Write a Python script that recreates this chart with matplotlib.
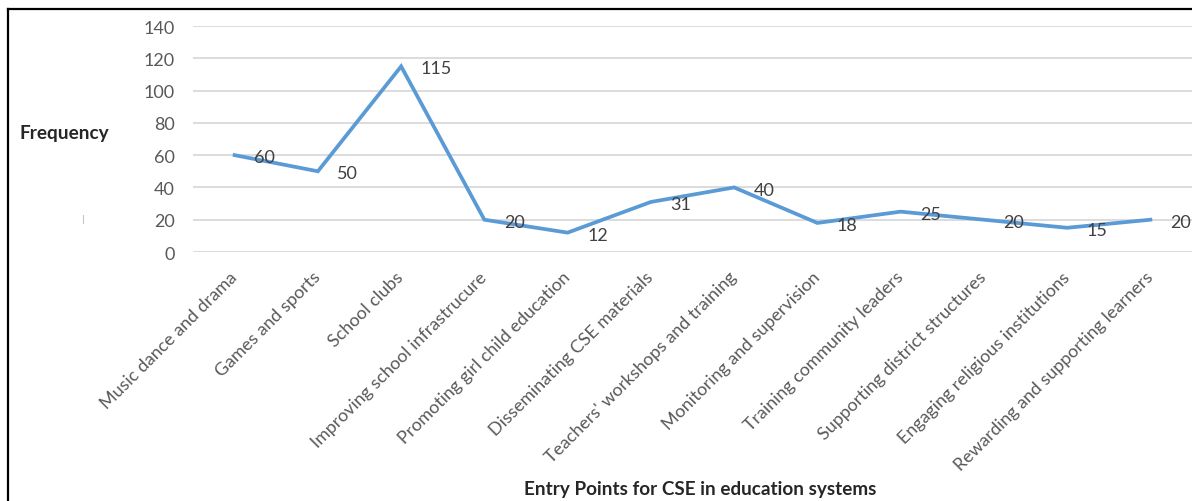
import matplotlib
matplotlib.use('Agg')
import matplotlib.pyplot as plt
from matplotlib.lines import Line2D

# ─────────────────────────────────────────
# DATA
# ─────────────────────────────────────────
entry_points = [
    'Music dance and drama',
    'Games and sports',
    'School clubs',
    'Improving school infrastrucure',
    'Promoting girl child education',
    'Disseminating CSE materials',
    "Teachers' workshops and training",
    'Monitoring and supervision',
    'Training community leaders',
    'Supporting district structures',
    'Engaging religious institutions',
    'Rewarding and supporting learners',
]
frequency = [60, 50, 115, 20, 12, 31, 40, 18, 25, 20, 15, 20]
y_ticks = [0, 20, 40, 60, 80, 100, 120, 140]

plt.rcParams['font.family'] = ['Lato', 'DejaVu Sans']

W, H = 1192, 502
fig = plt.figure(figsize=(W / 100, H / 100), dpi=100)
ax = fig.add_axes([193 / W, 1 - 253 / H, 1 - 193 / W, (253 - 27) / H])

x = list(range(len(frequency)))
ax.plot(x, frequency, color='#5b9bd5', linewidth=2.7, solid_joinstyle='miter')

# data labels to the right of each point
for xi, v in zip(x, frequency):
    ax.annotate(str(v), (xi, v), xytext=(14, -1.5), textcoords='offset points',
                ha='left', va='center', fontsize=13, color='#404040',
                annotation_clip=False)

ax.set_xlim(-0.5, len(frequency) - 0.5)
ax.set_ylim(0, 140)
ax.set_yticks(y_ticks)
ax.set_yticklabels([str(t) for t in y_ticks], fontsize=13, color='#595959')
ax.set_xticks(x)
ax.set_xticklabels(entry_points, rotation=45, ha='right', va='center',
                   rotation_mode='anchor', fontsize=12.9, color='#595959')
ax.tick_params(axis='y', length=0, pad=13)
ax.tick_params(axis='x', length=0, pad=16)
ax.grid(axis='y', color='#d9d9d9', linewidth=1.3)
ax.set_axisbelow(True)
for s in ax.spines.values():
    s.set_visible(False)

# axis titles
fig.text(64 / W, 1 - 133 / H, 'Frequency', ha='center', va='center',
         fontsize=13.7, fontweight='bold', color='#262626')
fig.text(700 / W, 1 - 490 / H, 'Entry Points for CSE in education systems',
         ha='center', va='center', fontsize=13.6, fontweight='bold', color='#262626')

# frame of the pasted figure (left and top edges)
fig.add_artist(Line2D([8 / W, 8 / W], [0, 1 - 10 / H], color='black', linewidth=1.6))
fig.add_artist(Line2D([8 / W, 1], [1 - 10 / H, 1 - 10 / H], color='black', linewidth=1.6))
# small stray mark on the left
fig.add_artist(Line2D([83 / W, 83 / W], [1 - 224 / H, 1 - 216 / H], color='#c8c8c8', linewidth=0.8))

fig.savefig('out.png', dpi=100)
